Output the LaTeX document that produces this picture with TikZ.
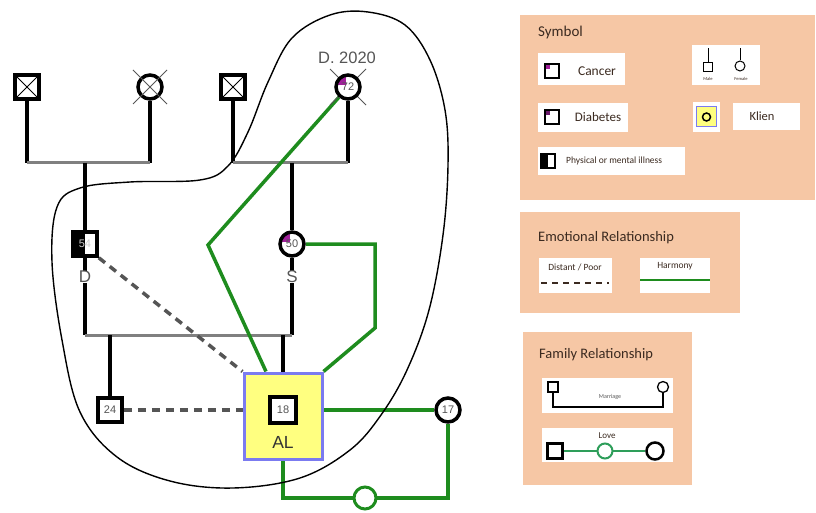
\documentclass[tikz,border=0pt]{standalone}
\usepackage{fontspec}
\setmainfont{Liberation Sans}
\newfontfamily\legfont{Carlito}
\usetikzlibrary{calc}
\definecolor{peach}{HTML}{F6C7A5}
\definecolor{gline}{HTML}{1E8C1E}
\definecolor{lgreen}{HTML}{2E9E5A}
\definecolor{pur}{HTML}{A0209A}
\definecolor{dpur}{HTML}{6A1A6A}
\definecolor{alyellow}{HTML}{FFFF80}
\definecolor{alblue}{HTML}{7B7BF0}
\definecolor{legtext}{HTML}{3B2A20}
\definecolor{numgray}{HTML}{555555}
\definecolor{sgray}{HTML}{808080}
\pgfdeclarelayer{bg}
\pgfsetlayers{bg,main}
\tikzset{
  male/.style={draw, line width=3.5pt, minimum size=24pt, inner sep=0pt, fill=white,
    font=\fontsize{11}{11}\selectfont, text=numgray},
  female/.style={male, circle},
  kid/.style={line width=3.5pt, black},
  spouse/.style={line width=3pt, sgray},
  harmony/.style={line width=3.5pt, gline},
  distant/.style={line width=3.5pt, numgray, dash pattern=on 8pt off 6pt},
  xcross/.style={path picture={\draw[line width=0.8pt] (path picture bounding box.north west) -- (path picture bounding box.south east) (path picture bounding box.north east) -- (path picture bounding box.south west);}},
  purcorner/.style={path picture={\fill[#1] (path picture bounding box.north west) rectangle ($(path picture bounding box.center)+(-2,-2)$);}},
  purcorner/.default=pur,
  illness/.style={path picture={\fill[black] (path picture bounding box.north west) rectangle (path picture bounding box.south);}},
  xl/.style={line width=0.8pt, numgray},
  lbox/.style={fill=peach, draw=none, inner sep=0pt, anchor=north west},
  wbox/.style={fill=white, draw=none, inner sep=0pt, anchor=north west},
  legt/.style={text=legtext, inner sep=0pt},
  lab/.style={text=numgray, font=\fontsize{17}{17}\selectfont, inner sep=0pt},
}
\begin{document}
\begin{tikzpicture}[x=1pt,y=-1pt]
\useasboundingbox (0,0) rectangle (816,513);

% ---------- genogram nodes ----------
\node[male, xcross] (gf1) at (27,87) {};
\node[female] (gm1) at (150,87) {};
\draw[xl] ($(gm1.center)+(-17,-17)$) -- ($(gm1.center)+(17,17)$)
          ($(gm1.center)+(17,-17)$) -- ($(gm1.center)+(-17,17)$);
\node[male, xcross] (gf2) at (233,87) {};
\coordinate (p72) at (348,87);
\draw[xl] ($(p72)+(-18,-18)$) -- ($(p72)+(18,18)$)
          ($(p72)+(18,-18)$) -- ($(p72)+(-18,18)$);
\node[female, purcorner] (gm2) at (p72) {72};
\node[lab, font=\fontsize{16.5}{16.5}\selectfont] (dtxt) at (347,58) {D. 2020};

\coordinate (m1l) at (27,163);
\coordinate (m1r) at (150,163);
\coordinate (m1c) at (85,163);
\coordinate (m2l) at (233,163);
\coordinate (m2r) at (348,163);
\coordinate (m2c) at (292,163);

\node[male, illness, text=gray!40] (d) at (85,244) {54};
\node[female, purcorner] (s) at (292,244) {50};
\node[lab] (dl) at (85,277) {D};
\node[lab] (sl) at (292,277) {S};

\coordinate (m3l) at (85,335);
\coordinate (m3r) at (292,335);
\coordinate (c24) at (110,335);
\coordinate (cal) at (283,335);

\node[male] (b24) at (110,410) {24};
\node[draw=alblue, fill=alyellow, line width=3pt, minimum width=78pt, minimum height=86pt, inner sep=0pt] (al) at (283,416) {};
\node[male, minimum size=26pt] (a18) at (283,410) {18};
\node[lab, text=black!80, font=\fontsize{17.5}{17.5}\selectfont] (alt) at (283,442) {AL};
\node[female] (p17) at (448,410) {17};

\coordinate (bend) at (208,245);
\coordinate (al72) at ($(al.north west)!0.29!(al.north east)$);
\coordinate (r1) at (375,244);
\coordinate (r2) at (375,328);
\coordinate (lr) at (448,498);
\coordinate (ll) at (283,498);

\begin{pgfonlayer}{bg}
\draw[kid] (gf1.south) -- (m1l);
\draw[kid] (gm1.south) -- (m1r);
\draw[spouse] (m1l) -- (m1r);
\draw[kid] (gf2.south) -- (m2l);
\draw[kid] (gm2.south) -- (m2r);
\draw[spouse] (m2l) -- (m2r);
\draw[kid] (m1c) -- (d.north);
\draw[kid] (m2c) -- (s.north);
\draw[kid] (d.south) -- (dl.north);
\draw[kid] (s.south) -- (sl.north);
\draw[kid] (dl.south) -- (m3l);
\draw[kid] (sl.south) -- (m3r);
\draw[spouse] (m3l) -- (m3r);
\draw[kid] (c24) -- (b24.north);
\draw[kid] (cal) -- (al.north);
\draw[distant] (b24.east) -- (al.west |- b24);
\draw[distant] (d.south east) -- (al.north west);
\draw[harmony] (gm2) -- (bend) -- (al72);
\draw[harmony] (s.east) -- (r1) -- (r2) -- (al.north east);
\draw[harmony] (a18 -| al.east) -- (p17.west);
\draw[harmony] (p17.south) -- (lr) -- (ll) -- (al.south);
\end{pgfonlayer}
\node[circle, draw=gline, line width=3pt, fill=white, minimum size=22pt, inner sep=0pt] (love) at (365,498) {};

% ---------- enclosing curve ----------
\draw[line width=1.4pt] plot[smooth cycle, tension=0.6] coordinates {
 (292,38) (330,15) (368,12) (405,25) (430,60) (445,110) (448,165) (443,235)
 (429,310) (407,370) (381,415) (350,450) (300,478) (233,488) (170,481)
 (117,457) (80,412) (62,340) (52,262) (57,207) (80,188) (130,182) (200,180)
 (228,166) (248,132) (268,82)};

% ---------- legend: Symbol ----------
\node[lbox, minimum width=295pt, minimum height=185pt] (symbox) at (520,15) {};
\node[legt, anchor=west, font=\legfont\fontsize{15}{15}\selectfont] (symt) at (538,33) {Symbol};
\node[wbox, minimum width=87pt, minimum height=32pt] (wc) at (538,53) {};
\node[male, line width=2.5pt, minimum size=14pt, purcorner] (ic) at (552,71) {};
\node[legt, font=\legfont\fontsize{13.5}{13.5}\selectfont] (tc) at (597,71) {Cancer};
\node[wbox, minimum width=90pt, minimum height=29pt] (wd) at (538,103) {};
\node[male, line width=2.5pt, minimum size=14pt, purcorner=dpur] (id) at (552,117) {};
\node[legt, font=\legfont\fontsize{13}{13}\selectfont] (td) at (598,117) {Diabetes};
\node[wbox, minimum width=147pt, minimum height=28pt] (wp) at (538,147) {};
\node[male, line width=2.5pt, minimum size=14pt, illness] (ip) at (548,161) {};
\node[legt, anchor=west, font=\legfont\fontsize{9.5}{9.5}\selectfont] (tp) at (566,161) {Physical or mental illness};
\node[wbox, minimum width=68pt, minimum height=40pt] (wmf) at (692,45) {};
\node[draw, line width=1pt, minimum size=9pt, inner sep=0pt] (mi) at (708,67) {};
\coordinate (mit) at (708,48);
\draw[line width=1pt] (mi.north) -- (mit);
\node[draw, circle, line width=1pt, minimum size=10pt, inner sep=0pt] (fi) at (740,66) {};
\coordinate (fit) at (740,48);
\draw[line width=1pt] (fi.north) -- (fit);
\node[legt, font=\legfont\fontsize{4.5}{4.5}\selectfont] (tm) at (708,79) {Male};
\node[legt, font=\legfont\fontsize{4.5}{4.5}\selectfont] (tf) at (741,79) {Female};
\node[wbox, minimum width=27pt, minimum height=30pt] (wk) at (693,102) {};
\node[draw=alblue, fill=alyellow, line width=1pt, minimum size=20pt, inner sep=0pt] (ik) at (706.5,117) {};
\node[draw, circle, line width=1.5pt, minimum size=8pt, inner sep=0pt] (ikc) at (706.5,117) {};
\node[wbox, minimum width=67pt, minimum height=27pt] (wkt) at (733,103) {};
\node[legt, font=\legfont\fontsize{12.5}{12.5}\selectfont] (tk) at (762,116) {Klien};

% ---------- legend: Emotional ----------
\node[lbox, minimum width=220pt, minimum height=101pt] (emobox) at (520,212) {};
\node[legt, anchor=west, font=\legfont\fontsize{14.5}{14.5}\selectfont] (emot) at (538,238) {Emotional Relationship};
\node[wbox, minimum width=73pt, minimum height=35pt] (wdp) at (539,258) {};
\node[legt, font=\legfont\fontsize{9.5}{9.5}\selectfont] (tdp) at (575,267) {Distant / Poor};
\coordinate (dp1) at (541,283);
\coordinate (dp2) at (609,283);
\draw[line width=2pt, legtext, dash pattern=on 6pt off 5pt] (dp1) -- (dp2);
\node[wbox, minimum width=70pt, minimum height=35pt] (wh) at (640,258) {};
\node[legt, font=\legfont\fontsize{9.5}{9.5}\selectfont] (th) at (675,266) {Harmony};
\coordinate (h1) at (640,280);
\coordinate (h2) at (710,280);
\draw[line width=2.5pt, gline] (h1) -- (h2);

% ---------- legend: Family ----------
\node[lbox, minimum width=169pt, minimum height=153pt] (fambox) at (523,332) {};
\node[legt, anchor=west, font=\legfont\fontsize{14.5}{14.5}\selectfont] (famt) at (539,355) {Family Relationship};
\node[wbox, minimum width=131pt, minimum height=35pt] (wm) at (542,378) {};
\node[draw, line width=1.3pt, minimum size=10pt, inner sep=0pt] (ms) at (553,387) {};
\node[draw, circle, line width=1.3pt, minimum size=11pt, inner sep=0pt] (mc) at (663,387) {};
\coordinate (mb1) at (553,407);
\coordinate (mb2) at (663,407);
\draw[line width=1.3pt] (ms.south) -- (mb1) -- (mb2) -- (mc.south);
\node[legt, font=\legfont\fontsize{6}{6}\selectfont, text=numgray] (tmar) at (610,397) {Marriage};
\node[wbox, minimum width=131pt, minimum height=34pt] (wl) at (542,428) {};
\node[legt, font=\legfont\fontsize{9}{9}\selectfont] (tl) at (607,436) {Love};
\node[draw, line width=2.5pt, minimum size=15pt, inner sep=0pt, fill=white] (ls) at (555,451) {};
\node[draw, circle, line width=2.5pt, minimum size=17pt, inner sep=0pt, fill=white] (lc) at (655,451) {};
\draw[line width=1.8pt, lgreen] (ls.east) -- (lc.west);
\node[draw=lgreen, circle, line width=2pt, minimum size=15pt, inner sep=0pt, fill=white] (lg) at (605,451) {};
\end{tikzpicture}
\end{document}
